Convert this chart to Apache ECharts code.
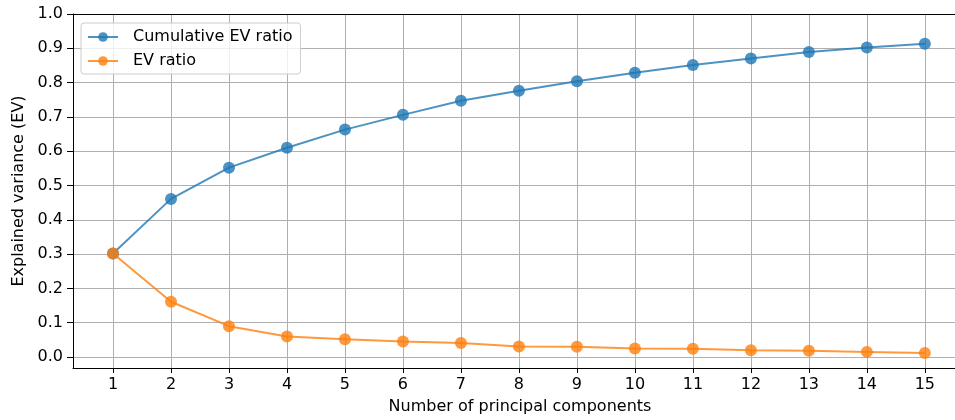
<!DOCTYPE html>
<html>
<head>
<meta charset="utf-8">
<script src="https://cdn.jsdelivr.net/npm/echarts@6/dist/echarts.min.js"></script>
<style>
  html, body { margin: 0; padding: 0; background: #fff; }
  #main { width: 955px; height: 420px; }
</style>
</head>
<body>
<div id="main"></div>
<script>
// number of components and the two ratio series
var components = [1, 2, 3, 4, 5, 6, 7, 8, 9, 10, 11, 12, 13, 14, 15];
var cumulativeEV = [0.302, 0.461, 0.552, 0.610, 0.663, 0.706, 0.747, 0.776, 0.804, 0.829, 0.851, 0.870, 0.889, 0.902, 0.913];
var evRatio = [0.302, 0.161, 0.090, 0.060, 0.052, 0.045, 0.041, 0.031, 0.030, 0.025, 0.024, 0.020, 0.018, 0.015, 0.012];
var yTicks = [0, 0.1, 0.2, 0.3, 0.4, 0.5, 0.6, 0.7, 0.8, 0.9, 1.0];

var font = 'DejaVu Sans';
var xMin = 0.31, xMax = 15.52;
var chart = echarts.init(document.getElementById('main'));

function pairs(vals) {
    return components.map(function (c, i) { return [c, vals[i]]; });
}

chart.setOption({
    animation: false,
    textStyle: { fontFamily: font },
    grid: { left: 73, top: 14, right: 0, bottom: 51 },
    legend: {
        orient: 'vertical',
        left: 81, top: 23,
        itemWidth: 30, itemHeight: 12, itemGap: 8,
        padding: [6, 8, 5, 6],
        backgroundColor: 'rgba(255,255,255,0.8)',
        borderColor: '#cccccc', borderWidth: 1, borderRadius: 3,
        textStyle: { fontFamily: font, fontSize: 16, color: '#000', padding: [0, 0, 0, 10] },
        data: ['Cumulative EV ratio', 'EV ratio']
    },
    xAxis: [{
        type: 'value',
        min: xMin, max: xMax,
        name: 'Number of principal components',
        nameLocation: 'middle', nameGap: 31,
        nameTextStyle: { fontFamily: font, fontSize: 16, color: '#000', padding: [0, 0, 0, 12] },
        axisLine: { onZero: false, lineStyle: { color: '#000', width: 1 } },
        axisTick: { show: true, length: 5, customValues: components, lineStyle: { color: '#000' } },
        axisLabel: { customValues: components, fontSize: 16, color: '#000', margin: 9 },
        splitLine: { show: true, lineStyle: { color: '#b0b0b0', width: 1 } }
    }, {
        // top spine only
        type: 'value', position: 'top',
        min: xMin, max: xMax,
        axisLine: { show: true, onZero: false, lineStyle: { color: '#000', width: 1 } },
        axisTick: { show: false },
        axisLabel: { show: false },
        splitLine: { show: false }
    }],
    yAxis: {
        type: 'value',
        min: -0.032, max: 1.0,
        name: 'Explained variance (EV)',
        nameLocation: 'middle', nameGap: 40,
        nameTextStyle: { fontFamily: font, fontSize: 16, color: '#000' },
        axisLine: { show: true, onZero: false, lineStyle: { color: '#000', width: 1 } },
        axisTick: { show: true, length: 6, customValues: yTicks, lineStyle: { color: '#000' } },
        axisLabel: {
            customValues: yTicks, fontSize: 16, color: '#000', margin: 10,
            formatter: function (v) { return v.toFixed(1); }
        },
        splitLine: { show: true, lineStyle: { color: '#b0b0b0', width: 1 } }
    },
    series: [
        {
            name: 'Cumulative EV ratio',
            type: 'line',
            data: pairs(cumulativeEV),
            symbol: 'circle', symbolSize: 12,
            itemStyle: { color: '#1f77b4', opacity: 0.8 },
            lineStyle: { color: '#1f77b4', width: 2, opacity: 0.8 }
        },
        {
            name: 'EV ratio',
            type: 'line',
            data: pairs(evRatio),
            symbol: 'circle', symbolSize: 12,
            itemStyle: { color: '#ff7f0e', opacity: 0.8 },
            lineStyle: { color: '#ff7f0e', width: 2, opacity: 0.8 }
        }
    ]
});
</script>
</body>
</html>
